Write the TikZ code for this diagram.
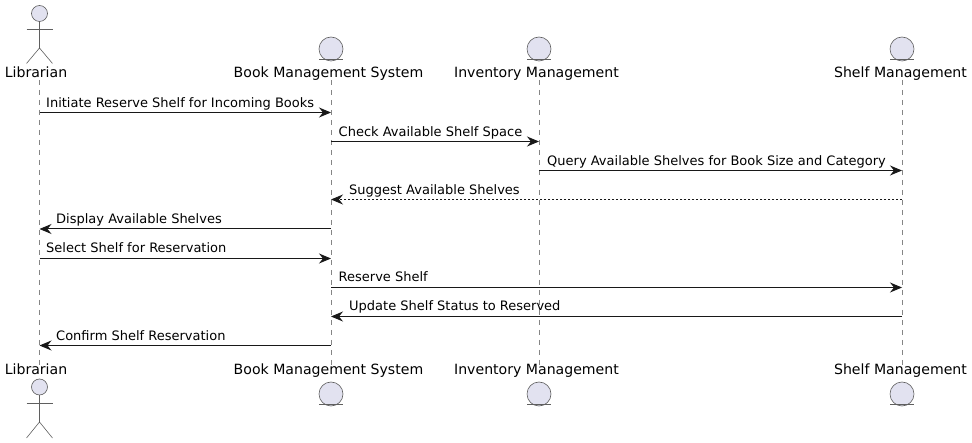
\documentclass[tikz,border=0pt]{standalone}
\usepackage{fontspec}
\setmainfont{DejaVu Sans}
\usetikzlibrary{arrows.meta}
\definecolor{partfill}{HTML}{E2E2F0}
\definecolor{partline}{HTML}{5F5F5F}
\definecolor{lifeclr}{HTML}{858585}
\definecolor{msgclr}{HTML}{181818}
\begin{document}
\begin{tikzpicture}[x=1pt,y=-1pt,
  lifeline/.style={draw=lifeclr,line width=0.6pt,dash pattern=on 5pt off 5pt},
  msg/.style={draw=msgclr,line width=1pt,-{Stealth[length=12pt,width=10pt,inset=4pt,fill=msgclr]}},
  retmsg/.style={draw=msgclr,line width=0.9pt,dash pattern=on 2pt off 2pt,-{Stealth[length=12pt,width=10pt,inset=4pt,fill=msgclr]}},
  msgtext/.style={anchor=base west,inner sep=0pt,font=\fontsize{13}{15}\selectfont,text=black},
  parttext/.style={inner sep=0pt,font=\fontsize{14.1}{16}\selectfont,text=black,anchor=base},
  head/.style={circle,draw=partline,fill=partfill,line width=0.6pt,inner sep=0pt,minimum size=16pt},
  orb/.style={circle,draw=partline,fill=partfill,line width=0.6pt,inner sep=0pt,minimum size=24pt},
  stick/.style={draw=partline,line width=0.6pt}]
\useasboundingbox (0,0) rectangle (972,443);
% lifelines
\coordinate (lib) at (39.5,0);
\coordinate (bms) at (331,0);
\coordinate (inv) at (539,0);
\coordinate (shf) at (902,0);
\coordinate (ltop) at (0,80);
\coordinate (lbot) at (0,365);
\draw[lifeline] (lib |- ltop) -- (lib |- lbot);
\draw[lifeline] (bms |- ltop) -- (bms |- lbot);
\draw[lifeline] (inv |- ltop) -- (inv |- lbot);
\draw[lifeline] (shf |- ltop) -- (shf |- lbot);
% top participants
\node[head] (libTopHead) at (39.5,13.5) {};
\coordinate (libTopHip) at (39.5,48);
\coordinate (libTopArmL) at (26.5,29);
\coordinate (libTopArmR) at (52.5,29);
\coordinate (libTopLegL) at (26.5,63.5);
\coordinate (libTopLegR) at (52.5,63.5);
\draw[stick] (libTopHead.south) -- (libTopHip);
\draw[stick] (libTopArmL) -- (libTopArmR);
\draw[stick] (libTopLegL) -- (libTopHip) -- (libTopLegR);
\node[parttext] (libTopLabel) at (36,78) {Librarian};
\foreach \nm/\cx/\lx/\txt in {bms/331/328.5/Book Management System,inv/539/536.5/Inventory Management,shf/902/900.5/Shelf Management}{
  \node[orb] (\nm TopOrb) at (\cx,49) {};
  \draw[stick] ([xshift=-12pt,yshift=2pt]\nm TopOrb.south) -- ([xshift=12pt,yshift=2pt]\nm TopOrb.south);
  \node[parttext] (\nm TopLabel) at (\lx,78) {\txt};
  \node[orb] (\nm BotOrb) at (\cx,394) {};
  \draw[stick] ([xshift=-12pt,yshift=2pt]\nm BotOrb.south) -- ([xshift=12pt,yshift=2pt]\nm BotOrb.south);
  \node[parttext] (\nm BotLabel) at (\lx,375) {\txt};
}
% bottom actor
\node[head] (libBotHead) at (39.5,387) {};
\coordinate (libBotHip) at (39.5,422);
\coordinate (libBotArmL) at (26.5,403);
\coordinate (libBotArmR) at (52.5,403);
\coordinate (libBotLegL) at (26.5,438);
\coordinate (libBotLegR) at (52.5,438);
\draw[stick] (libBotHead.south) -- (libBotHip);
\draw[stick] (libBotArmL) -- (libBotArmR);
\draw[stick] (libBotLegL) -- (libBotHip) -- (libBotLegR);
\node[parttext] (libBotLabel) at (36,375) {Librarian};
% messages
\coordinate (r1) at (0,112.5);
\coordinate (r2) at (0,141.5);
\coordinate (r3) at (0,170.5);
\coordinate (r4) at (0,199.5);
\coordinate (r5) at (0,229);
\coordinate (r6) at (0,258.5);
\coordinate (r7) at (0,287.5);
\coordinate (r8) at (0,316.5);
\coordinate (r9) at (0,345.5);
\draw[msg] (lib |- r1) -- (bms |- r1);
\node[msgtext] (t1) at (46,108) {Initiate Reserve Shelf for Incoming Books};
\draw[msg] (bms |- r2) -- (inv |- r2);
\node[msgtext] (t2) at (338.5,137) {Check Available Shelf Space};
\draw[msg] (inv |- r3) -- (shf |- r3);
\node[msgtext] (t3) at (547,166) {Query Available Shelves for Book Size and Category};
\draw[retmsg] (shf |- r4) -- (bms |- r4);
\node[msgtext] (t4) at (349,195) {Suggest Available Shelves};
\draw[msg] (bms |- r5) -- (lib |- r5);
\node[msgtext] (t5) at (56,224) {Display Available Shelves};
\draw[msg] (lib |- r6) -- (bms |- r6);
\node[msgtext] (t6) at (46,253) {Select Shelf for Reservation};
\draw[msg] (bms |- r7) -- (shf |- r7);
\node[msgtext] (t7) at (338.5,282) {Reserve Shelf};
\draw[msg] (shf |- r8) -- (bms |- r8);
\node[msgtext] (t8) at (349,311) {Update Shelf Status to Reserved};
\draw[msg] (bms |- r9) -- (lib |- r9);
\node[msgtext] (t9) at (56,341) {Confirm Shelf Reservation};
\end{tikzpicture}
\end{document}
